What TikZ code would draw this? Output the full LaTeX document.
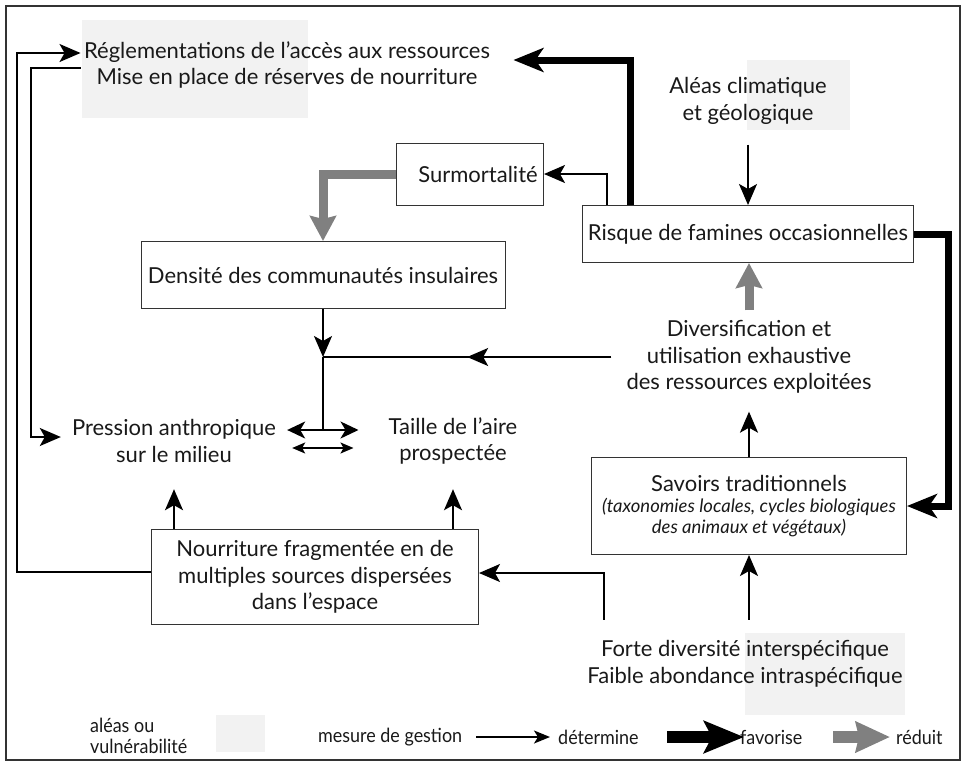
\documentclass[tikz,border=0pt]{standalone}
\usepackage{fontspec}
\setmainfont{Lato}
\newfontfamily\legendefont[FakeStretch=0.92]{Lato}
\usetikzlibrary{positioning, arrows.meta, decorations.markings}

\tikzset{
  texte/.style={align=center, text=black!90, font=\fontsize{22}{26.5}\selectfont},
  boite/.style={texte, draw=black!80, line width=1pt},
  ombre/.style={fill=black!5},
  legende/.style={text=black!90, font=\legendefont\fontsize{19.5}{21}\selectfont, inner sep=0pt},
  determine/.style={line width=1.8pt, -{Stealth[length=21pt,width=18pt,inset=5pt]}},
  milieu/.style={line width=1.8pt, postaction={decorate},
    decoration={markings, mark=at position 0.5 with {\arrow{Stealth[length=21pt,width=18pt,inset=5pt]}}}},
  double fleche/.style={line width=1.8pt, {Stealth[length=18pt,width=17pt,inset=5pt]}-{Stealth[length=18pt,width=17pt,inset=5pt]}},
  petite fleche/.style={line width=1.6pt, {Stealth[length=13pt,width=11pt,inset=3pt]}-{Stealth[length=13pt,width=11pt,inset=3pt]}},
  favorise/.style={line width=7pt, -{Stealth[length=30pt,width=24pt,inset=8pt]}},
  reduit/.style={draw=black!50, line width=9pt, -{Stealth[length=25pt,width=26pt,inset=3pt]}},
  leg det/.style={line width=1.6pt, -{Stealth[length=16pt,width=13pt,inset=4pt]}},
  leg fav/.style={line width=12pt, -{Stealth[length=40pt,width=32pt,inset=8pt]}},
  leg red/.style={draw=black!50, line width=12pt, -{Stealth[length=34pt,width=30pt,inset=3pt]}},
}

\begin{document}
\begin{tikzpicture}[x=1pt, y=-1pt]
  \useasboundingbox (0,0) rectangle (967,764);
  \draw[line width=1.3pt, black!80] (6,6) rectangle (960,760);

  % zones grisees (aleas ou vulnerabilite)
  \fill[ombre] (82,20) rectangle (308,118);
  \fill[ombre] (747,60) rectangle (850,130);
  \fill[ombre] (745,633) rectangle (905,715);

  % noeuds
  \node[texte, minimum width=410pt] (regle) at (287,65) {R\'eglementations de l'acc\`es aux ressources\\Mise en place de r\'eserves de nourriture};
  \node[texte, inner ysep=20pt] (aleas) at (748,101) {Al\'eas climatique\\et g\'eologique};
  \node[boite, minimum width=147pt, minimum height=62pt] (surmort) at (470,174) {\hspace*{16pt}Surmortalit\'e};
  \node[boite, minimum width=331pt, minimum height=57pt] (risque) at (748,234) {Risque de famines occasionnelles};
  \node[boite, minimum width=364pt, minimum height=67pt] (densite) at (323,275) {Densit\'e des communaut\'es insulaires};
  \node[texte, inner xsep=15pt, inner ysep=10pt] (divers) at (749,357) {Diversification et\\utilisation exhaustive\\des ressources exploit\'ees};
  \node[texte, inner xsep=11pt, minimum height=96pt] (pression) at (174,441) {Pression anthropique\\sur le milieu};
  \node[texte, inner xsep=30pt, minimum height=96pt] (taille) at (453,441) {Taille de l'aire\\prospect\'ee};
  \node[boite, minimum width=315pt, minimum height=97pt] (savoirs) at (749,506) {Savoirs traditionnels\\[-5pt]
    {\fontsize{18.5}{21}\selectfont\itshape (taxonomies locales, cycles biologiques}\\[-6pt]
    {\fontsize{18.5}{21}\selectfont\itshape des animaux et v\'eg\'etaux)}};
  \node[boite, minimum width=327pt, minimum height=95pt] (nourrit) at (315,577) {Nourriture fragment\'ee en de\\multiples sources dispers\'ees\\dans l'espace};
  \node[texte, minimum height=88pt] (forte) at (745,664) {Forte diversit\'e intersp\'ecifique\\Faible abondance intrasp\'ecifique};

  % fleches
  \draw[determine] (aleas.south) -- (aleas.south |- risque.north);
  \draw[determine] ([xshift=25pt]risque.north west) |- (surmort.east);
  \draw[favorise] ([xshift=48pt]risque.north west) |- ([xshift=20pt,yshift=5pt]regle.east);
  \draw[favorise] (risque.east) -- ++(34,0) |- (savoirs.east);
  \draw[reduit] (surmort.west) -| (densite.north);
  \draw[reduit] (divers.north) -- (divers.north |- risque.south);
  \draw[determine] (savoirs.north) -- ([yshift=-8pt]divers.south);
  \draw[determine] (forte.north -| savoirs.south) -- (savoirs.south);
  \path (forte.north -| savoirs.south) ++(-145,0) coordinate (depart);
  \draw[determine] (depart) |- ([yshift=4pt]nourrit.east);
  \draw[determine] (nourrit.north -| pression.south) -- (pression.south);
  \draw[determine] (nourrit.north -| taille.south) -- (taille.south);

  % boucles a gauche
  \draw[determine] ([yshift=5pt]nourrit.west) -| (17,53) -- ([yshift=12pt]regle.west);
  \draw[determine] ([yshift=-3pt]regle.west) -| (31,437) -- ([yshift=4pt]pression.west);

  % jonction centrale
  \coordinate (jonction) at (densite.south |- divers.west);
  \draw[determine] (densite.south) -- (jonction);
  \draw[milieu] (divers.west) -- (jonction);
  \draw[line width=1.8pt] (jonction) -- ([yshift=11pt]pression.east -| jonction);
  \draw[double fleche] ([yshift=11pt]pression.east) -- ([yshift=11pt]taille.west);
  \draw[petite fleche] ([xshift=5pt,yshift=-7pt]pression.east) -- ([xshift=-5pt,yshift=-7pt]taille.west);

  % legende
  \node[legende, align=left, anchor=west] (l-aleas) at (90,736) {al\'eas ou\\vuln\'erabilit\'e};
  \node[ombre, minimum width=49pt, minimum height=37pt] (l-ombre) at (240,733) {};
  \node[legende, anchor=west] (l-gestion) at (318,737) {mesure de gestion};
  \node[legende, anchor=west] (l-det) at (558,737) {d\'etermine};
  \node[legende, anchor=west] (l-fav) at (740,737) {favorise};
  \node[legende, anchor=west] (l-red) at (896,737) {r\'eduit};
  \draw[leg det] ([xshift=-82pt]l-det.west) -- ([xshift=-8pt]l-det.west);
  \draw[leg fav] ([xshift=-73pt]l-fav.west) -- ([xshift=4pt]l-fav.west);
  \draw[leg red] ([xshift=-63pt]l-red.west) -- ([xshift=-6pt]l-red.west);
\end{tikzpicture}
\end{document}
